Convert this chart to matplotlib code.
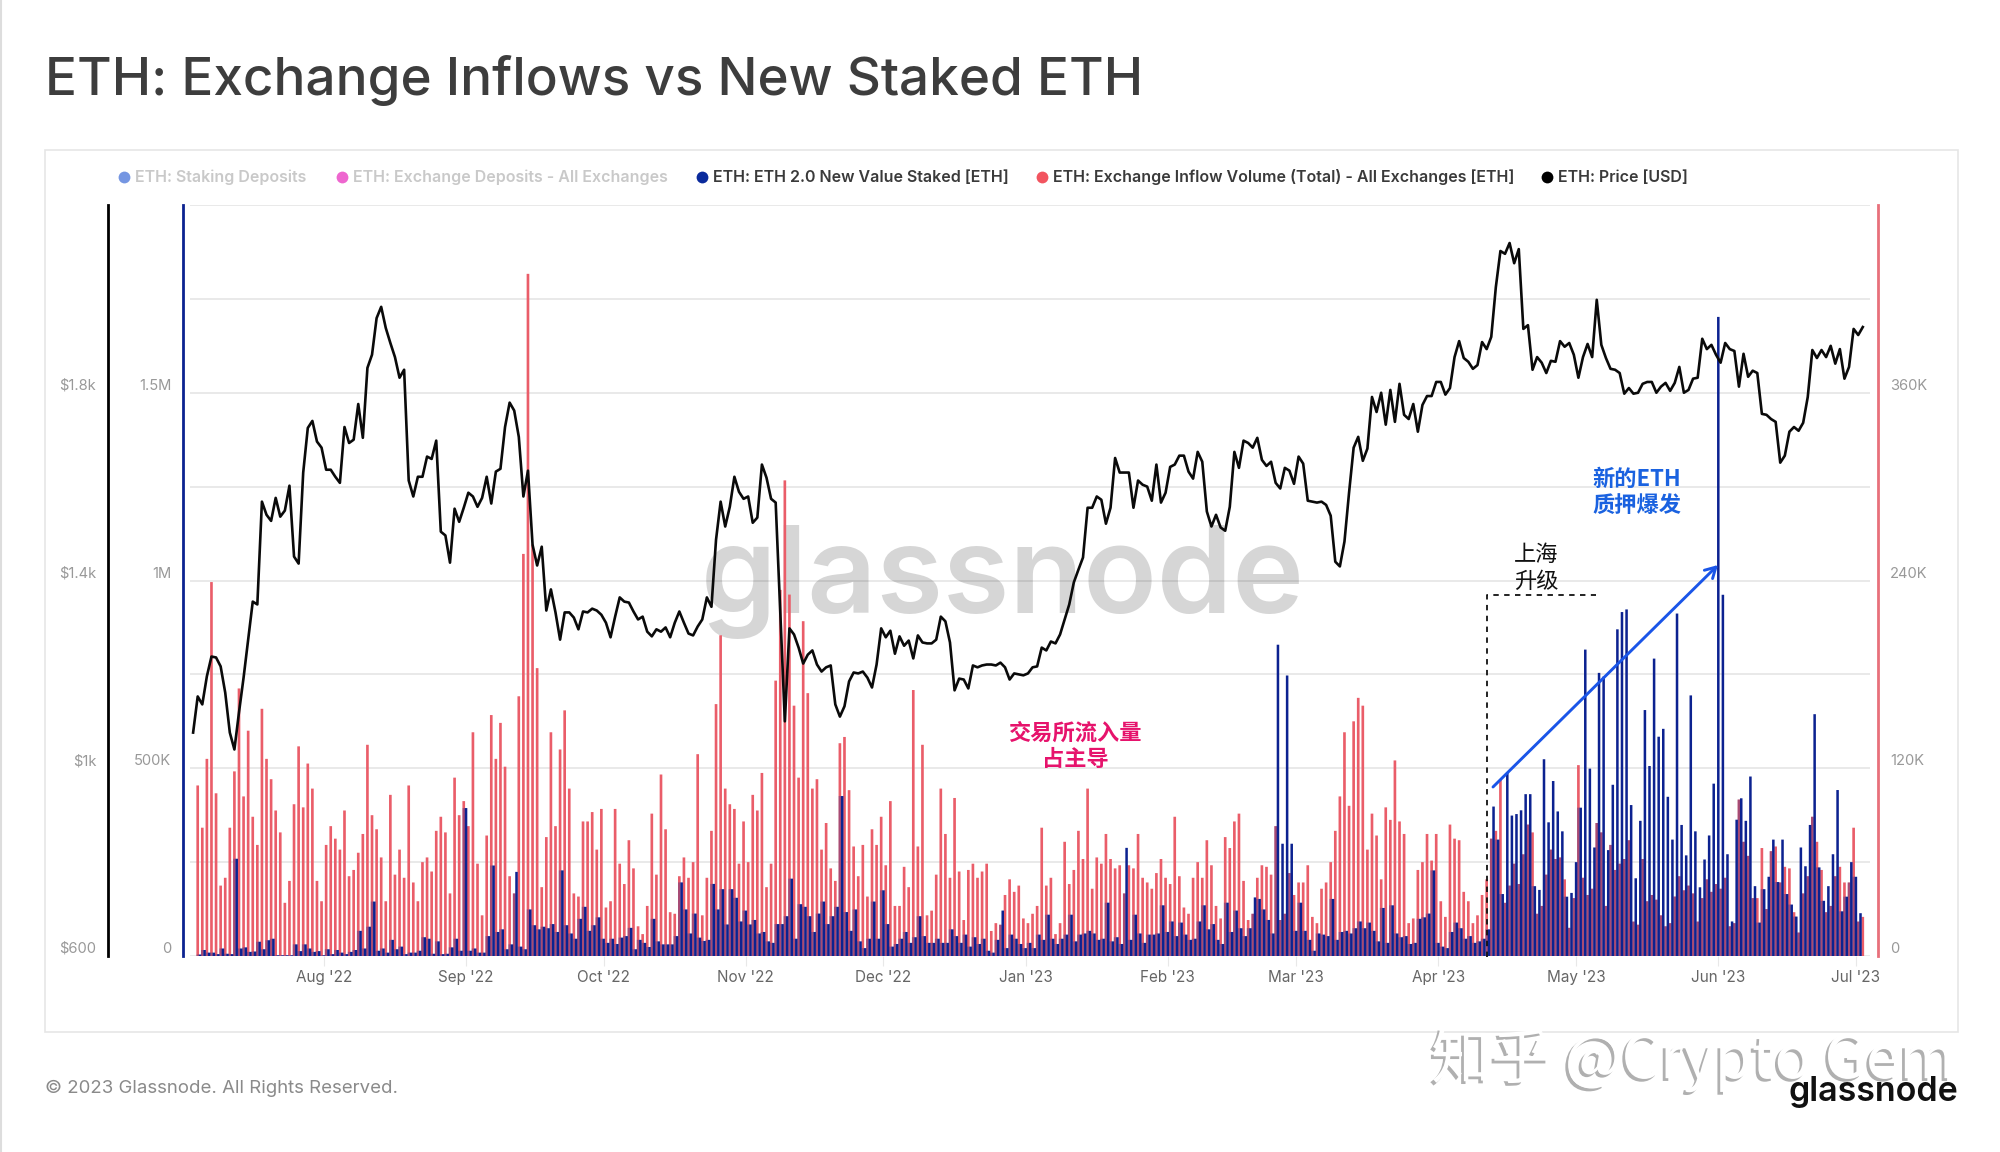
import matplotlib
matplotlib.use('Agg')
import matplotlib.pyplot as plt
import matplotlib.patheffects as path_effects
import numpy as np
import pandas as pd
from matplotlib.lines import Line2D
from matplotlib.patches import Rectangle

plt.rcParams['font.family'] = ['Inter', 'Noto Sans CJK SC', 'DejaVu Sans']

# daily values, first bar is 5 Jul 2022
start_date = '2022-07-05'

# exchange inflow volume, thousand ETH
inflow = [
    109, 82, 126, 239, 104, 45, 50, 82, 118, 171, 102, 144, 89, 71, 158, 126, 113, 93, 79, 34,
    48, 97, 134, 95, 123, 107, 48, 35, 71, 83, 75, 68, 93, 51, 55, 66, 78, 135, 90, 81,
    63, 35, 103, 52, 68, 50, 109, 47, 35, 60, 63, 54, 80, 89, 79, 40, 114, 90, 99, 83,
    143, 59, 26, 77, 154, 126, 149, 121, 51, 40, 166, 257, 436, 263, 184, 44, 76, 143, 83, 132,
    157, 107, 40, 38, 86, 86, 92, 68, 94, 31, 35, 94,
    59, 46, 74, 56, 19, 14, 32, 91, 52, 116, 81, 28, 27, 51, 63, 50, 60, 129, 26, 50,
    80, 161, 205, 107, 97, 94, 59, 86, 60, 103, 93, 117, 44, 59, 176, 234, 304, 231, 160, 114,
    214, 168, 107, 113, 68, 85, 56, 48, 136, 140, 106, 70, 51, 71, 38, 81, 71, 89, 58, 99,
    32, 32, 57, 44, 170, 70, 135, 26, 29, 52, 107, 78, 50, 101, 54, 23, 55, 59, 50, 54,
    59, 16, 21, 20, 39, 49, 41, 45, 24, 21, 27, 32, 82, 45, 50, 14, 21, 73, 46,
    55, 80, 62, 107, 43, 63, 59, 78, 62, 56, 58, 40, 58, 56, 78, 50, 47, 43, 53, 62,
    50, 46, 89, 51, 31, 27, 50, 60, 50, 74, 58, 32, 24, 76, 69, 86, 91, 48, 23, 27,
    50, 58, 57, 52, 83, 23, 27, 53, 39, 47, 47, 58, 25, 21, 43, 47, 60, 80, 102, 143,
    96, 150, 165, 160, 68, 91, 77, 49, 95, 87, 125, 86, 78, 21, 24, 55, 60, 78, 61, 78,
    35, 25, 84, 75, 74, 41, 35, 21, 26, 39, 49, 75, 80, 113,
    34, 45, 59, 46, 65, 84, 79, 27, 32, 52, 68, 62, 63, 49, 18, 37, 122, 50, 39, 43,
    85, 79, 32, 71, 55, 59, 62, 74, 22, 20, 62, 35, 39, 36, 26, 19, 21, 38, 51, 42,
    45, 40, 22, 37, 49, 41, 46, 43, 50, 19, 21, 100, 73, 64, 37, 37, 69, 30, 67, 70,
    47, 57, 56, 28, 15, 40, 51, 89, 73, 55, 28, 32, 51, 57, 47, 47, 82, 22, 25,
]

# new value staked, thousand ETH
staked = [
    4, 16, 9, 9, 5, 20, 6, 5, 259, 20, 23, 11, 12, 38, 18, 42, 46, 2, 2, 2,
    2, 31, 13, 31, 20, 11, 13, 2, 18, 5, 16, 9, 5, 11, 16, 67, 20, 78, 145, 14,
    20, 9, 43, 18, 25, 5, 9, 9, 14, 50, 46, 6, 39, 5, 6, 23, 46, 14, 394, 14,
    20, 9, 9, 53, 241, 64, 71, 18, 31, 224, 25, 18, 124, 82, 71, 78, 74, 85, 64, 228,
    82, 60, 46, 99, 131, 67, 82, 103, 46, 35, 46, 32,
    49, 53, 75, 18, 43, 35, 24, 99, 39, 31, 31, 31, 53, 196, 124, 60, 113, 49, 40, 43,
    192, 124, 178, 84, 178, 155, 92, 121, 84, 96, 60, 64, 39, 35, 85, 85, 106, 206, 46, 138,
    131, 106, 64, 113, 145, 85, 106, 131, 426, 117, 67, 124, 39, 21, 46, 145, 46, 175, 85, 25,
    32, 46, 64, 35, 50, 106, 53, 35, 35, 46, 35, 35, 71, 53, 35, 57, 25, 50, 32, 46,
    14, 9, 43, 121, 21, 57, 46, 32, 21, 35, 21, 57, 43, 110, 46, 32, 46, 57,
    110, 39, 57, 60, 67, 60, 43, 46, 142, 39, 50, 32, 288, 43, 110, 60, 35, 57, 57, 60,
    135, 64, 92, 53, 89, 57, 43, 46, 92, 135, 71, 85, 43, 32, 142, 64, 121, 74, 53, 74,
    156, 152, 124, 96, 60, 829, 299, 747, 299, 67, 142, 67, 43, 14, 60, 57, 53, 152, 43, 64,
    67, 60, 74, 92, 74, 89, 67, 39, 128, 35, 135, 60, 50, 53, 32, 35, 99, 103, 113, 228,
    35, 25, 21, 64, 89, 74, 46, 53, 35, 39, 46, 71, 398,
    310, 165, 488, 374, 378, 388, 431, 431, 186, 176, 524, 356, 466, 385, 332, 158, 168, 250, 395, 816,
    499, 289, 754, 744, 282, 456, 870, 916, 923, 402, 207, 360, 655, 506, 792, 584, 605, 424, 310, 912,
    349, 268, 694, 332, 183, 257, 321, 459, 1702, 962, 271, 92, 363, 420, 360, 478, 186, 89, 178, 211,
    310, 197, 310, 165, 137, 105, 289, 239, 349, 644, 236, 147, 186, 271, 442, 119, 158, 250, 211, 114, 0,
]

# ETH price in USD, first point is the day before the first bar
price = [
    1076, 1153, 1136, 1196, 1238, 1236, 1217, 1161, 1076, 1040, 1119, 1193, 1274, 1355, 1349,
    1568, 1540, 1527, 1576, 1536, 1549, 1602, 1451, 1436, 1630,
    1725, 1740, 1696, 1683, 1636, 1636, 1621, 1608, 1727, 1693,
    1700, 1776, 1704, 1853, 1881, 1959, 1983, 1938, 1906, 1876,
    1832, 1849, 1613, 1579, 1621, 1621, 1664, 1659, 1698, 1504,
    1496, 1438, 1553, 1525, 1555, 1587, 1579, 1557, 1576, 1621,
    1564, 1632, 1638, 1727, 1779, 1762, 1706, 1579, 1634, 1476,
    1432, 1472, 1336, 1381, 1332,
    1274, 1332, 1332, 1321, 1296, 1334, 1332, 1340, 1336, 1327, 1310, 1279, 1323, 1364, 1355, 1353,
    1334, 1317, 1323, 1291, 1281, 1296, 1291, 1300, 1279, 1310, 1334, 1310, 1287, 1283, 1302, 1317,
    1364, 1344, 1487, 1568, 1515, 1557, 1621, 1589, 1574, 1579, 1523, 1534, 1647, 1619, 1574, 1566,
    1334, 1100, 1298, 1285, 1257, 1223, 1242, 1251, 1221, 1206, 1215, 1219, 1136, 1110, 1132, 1185,
    1204, 1202, 1206, 1193, 1172, 1221, 1298, 1279, 1293, 1244, 1281, 1261, 1272, 1234, 1283, 1268,
    1266, 1266, 1274, 1323, 1313, 1268, 1166, 1191, 1189, 1170, 1219, 1215, 1219, 1221, 1221, 1219,
    1225, 1215, 1189, 1202, 1200, 1198, 1202, 1215, 1217, 1257, 1251, 1270, 1266, 1285, 1317, 1349,
    1396, 1423,
    1449, 1555, 1555, 1579, 1572, 1521, 1555, 1661, 1630, 1630,
    1630, 1555, 1613, 1604, 1600, 1570, 1647, 1566, 1587, 1642,
    1647, 1666, 1666, 1632, 1617, 1674, 1653, 1547, 1515, 1540,
    1513, 1506, 1557, 1674, 1640, 1698, 1693, 1683, 1704, 1657,
    1644, 1653, 1608, 1596, 1640, 1634, 1606, 1664, 1649, 1570,
    1568, 1566, 1568, 1561, 1538, 1440, 1430, 1483, 1587, 1683,
    1706,
    1655, 1681, 1791, 1759, 1800, 1732, 1806, 1738, 1819, 1753,
    1744, 1776, 1717, 1774, 1793, 1793, 1823, 1823, 1796, 1810,
    1876, 1910, 1874, 1866, 1851, 1859, 1908, 1893, 1919, 2025,
    2102, 2096, 2119, 2076, 2106, 1936, 1944, 1849, 1876, 1864,
    1842, 1868, 1866, 1910, 1898, 1906, 1881, 1832, 1876, 1904,
    1876, 1998, 1902, 1874, 1851, 1849, 1842, 1798, 1810, 1798,
    1800, 1819, 1823, 1823, 1800, 1813, 1821, 1804, 1821, 1855,
    1800, 1806, 1830, 1832, 1915, 1893, 1902, 1881, 1864, 1906,
    1893, 1889, 1813, 1883, 1834, 1847, 1842, 1755, 1753, 1744,
    1738, 1651, 1666, 1717, 1727, 1719, 1736, 1791, 1891, 1874,
    1891, 1876, 1900, 1862, 1893, 1830, 1855, 1936, 1923, 1940,
]

month_ticks = ['2022-08-01', '2022-09-01', '2022-10-01', '2022-11-01', '2022-12-01', '2023-01-01',
               '2023-02-01', '2023-03-01', '2023-04-01', '2023-05-01', '2023-06-01', '2023-07-01']
month_labels = ["Aug '22", "Sep '22", "Oct '22", "Nov '22", "Dec '22", "Jan '23",
                "Feb '23", "Mar '23", "Apr '23", "May '23", "Jun '23", "Jul '23"]

staked_ticks = [0, 500, 1000, 1500]
staked_labels = ['0', '500K', '1M', '1.5M']
price_ticks = [600, 1000, 1400, 1800]
price_labels = ['$600', '$1k', '$1.4k', '$1.8k']
inflow_ticks = [0, 120, 240, 360]
inflow_labels = ['0', '120K', '240K', '360K']
inflow_minor = [60, 180, 300, 420, 480]

legend_names = ['ETH: Staking Deposits', 'ETH: Exchange Deposits - All Exchanges',
                'ETH: ETH 2.0 New Value Staked [ETH]',
                'ETH: Exchange Inflow Volume (Total) - All Exchanges [ETH]', 'ETH: Price [USD]']
legend_dots = ['#7596e2', '#ee66cf', '#0a2a9c', '#f2545f', '#000000']
legend_text = ['#c9c9c9', '#c9c9c9', '#3a3a3a', '#3a3a3a', '#3a3a3a']
legend_x = [124, 342, 702, 1042, 1547]

RED = '#ea5d69'
NAVY = '#0c2290'
W, H = 2000, 1152


def fx(px):
    return px / W


def fy(px):
    return 1 - px / H


def px_text(x, y, s, **kw):
    kw.setdefault('va', 'center')
    return fig.text(fx(x), fy(y), s, **kw)


def px_line(xs, ys, **kw):
    fig.add_artist(Line2D([fx(v) for v in xs], [fy(v) for v in ys], transform=fig.transFigure, **kw))


fig = plt.figure(figsize=(20, 11.52), dpi=100, facecolor='white')
fig.add_artist(Rectangle((fx(45), fy(1032)), fx(1958 - 45), (1032 - 150) / H, transform=fig.transFigure,
                         fc='white', ec='#e6e6e6', lw=1.2, zorder=-3))
px_line([1, 1], [0, H], color='#dddddd', lw=1.5, zorder=-3)

px_text(45, 80, 'ETH: Exchange Inflows vs New Staked ETH', fontsize=38.2, fontweight=500, color='#3d3d3d')

for name, dot, col, x in zip(legend_names, legend_dots, legend_text, legend_x):
    fig.add_artist(Line2D([fx(x)], [fy(177)], marker='o', ms=8.5, color=dot, mec='none', ls='none',
                          transform=fig.transFigure))
    px_text(x + 11, 177, name, fontsize=11.5, fontweight=600, color=col)

# big grey mark behind the bars
px_text(1003, 613, 'glassnode', fontsize=87, fontweight=600, color='#d6d6d6', ha='center', va='baseline', zorder=-1)

rect = [fx(190), 1 - 956 / H, fx(1870 - 190), (956 - 205) / H]
ax_staked = fig.add_axes(rect, zorder=2)
ax_inflow = ax_staked.twinx()
ax_price = ax_staked.twinx()
ax_inflow.set_zorder(1)
ax_staked.set_zorder(2)
ax_price.set_zorder(3)

days = np.arange(len(inflow))
t0 = pd.Timestamp(start_date)
tick_days = [(pd.Timestamp(d) - t0).days for d in month_ticks]

# red sits half a day before the blue bar of the same date
ax_inflow.bar(days - 0.5, inflow, width=0.58, color=RED, lw=0, snap=False)
overlap = np.minimum(np.array(inflow), np.array(staked) * 480 / 2000)
ax_inflow.bar(days - 0.5, overlap, width=0.58, color=NAVY, alpha=0.3, lw=0, snap=False)
ax_staked.bar(days, staked, width=0.55, color=NAVY, lw=0, snap=False)
ax_price.plot(np.arange(len(price)) - 1.5, price, color='#0a0a0a', lw=1.9, solid_joinstyle='round')

for ax in (ax_staked, ax_inflow, ax_price):
    ax.set_xlim(-2.18, 364.07)
    ax.patch.set_visible(False)
    for side in ax.spines:
        ax.spines[side].set_visible(False)

ax_staked.set_ylim(0, 2000)
ax_inflow.set_ylim(0, 480)
ax_price.set_ylim(600, 2200)

ax_staked.set_xticks(tick_days)
ax_staked.set_xticklabels(month_labels)
ax_staked.tick_params(axis='x', length=7, width=0.8, color='#e8e8e8', pad=3.2, labelsize=11, labelcolor='#666666')

ax_staked.set_yticks(staked_ticks)
ax_staked.set_yticklabels(staked_labels)
ax_staked.yaxis.set_ticks_position('left')
ax_staked.spines['left'].set_visible(True)
ax_staked.spines['left'].set_position(('outward', 5))
ax_staked.spines['left'].set_color(NAVY)
ax_staked.spines['left'].set_linewidth(2)
ax_staked.tick_params(axis='y', length=0, pad=8.5, labelsize=10.6, labelcolor='#999999')

ax_price.set_yticks(price_ticks)
ax_price.set_yticklabels(price_labels)
ax_price.yaxis.set_ticks_position('left')
ax_price.spines['left'].set_visible(True)
ax_price.spines['left'].set_position(('outward', 59))
ax_price.spines['left'].set_color('#000000')
ax_price.spines['left'].set_linewidth(2)
ax_price.tick_params(axis='y', length=0, pad=8.5, labelsize=10.6, labelcolor='#999999')
ax_price.tick_params(axis='x', length=0, labelbottom=False)

ax_inflow.set_yticks(inflow_ticks)
ax_inflow.set_yticklabels(inflow_labels)
ax_inflow.set_yticks(inflow_minor, minor=True)
ax_inflow.yaxis.set_ticks_position('right')
ax_inflow.spines['right'].set_visible(True)
ax_inflow.spines['right'].set_position(('outward', 5.8))
ax_inflow.spines['right'].set_color('#e8707b')
ax_inflow.spines['right'].set_linewidth(2)
ax_inflow.tick_params(axis='y', which='both', length=0, pad=8.5, labelsize=10.6, labelcolor='#999999')
ax_inflow.tick_params(axis='x', length=0, labelbottom=False)
ax_inflow.grid(axis='y', which='both', color='#000000', alpha=0.115, lw=1.1)
ax_inflow.set_axisbelow(True)

# the value labels sit just above their grid lines
for ax in (ax_staked, ax_inflow, ax_price):
    for label in ax.get_yticklabels():
        label.set_verticalalignment('bottom')

# notes drawn over the chart
cjk = ['Noto Sans CJK SC', 'DejaVu Sans']
px_text(1075, 733, '交易所流入量', family=cjk, fontsize=16, fontweight='bold', color='#e6136c', ha='center', zorder=10)
px_text(1075, 760, '占主导', family=cjk, fontsize=16, fontweight='bold', color='#e6136c', ha='center', zorder=10)
px_text(1637, 479, '新的ETH', family=cjk, fontsize=16, fontweight='bold', color='#1a62e0', ha='center', zorder=10)
px_text(1637, 506, '质押爆发', family=cjk, fontsize=16, fontweight='bold', color='#1a62e0', ha='center', zorder=10)
px_text(1536, 554, '上海', family=cjk, fontsize=16, color='#111111', ha='center', zorder=10)
px_text(1536, 581, '升级', family=cjk, fontsize=16, color='#111111', ha='center', zorder=10)

px_line([1487, 1487, 1596], [957, 595, 595], color='#111111', lw=1.3, ls=(0, (3, 3)), zorder=10)

ax_price.annotate('', xy=(1718, H - 565), xytext=(1493, H - 787), xycoords='figure pixels',
                  textcoords='figure pixels', annotation_clip=False, zorder=10,
                  arrowprops=dict(arrowstyle='->,head_length=0.75,head_width=0.42', color='#1a55e8', lw=2.1,
                                  shrinkA=0, shrinkB=0))

# footer
px_text(45, 1088, '© 2023 Glassnode. All Rights Reserved.', fontsize=13.4, color='#8a8a8a')
zhihu = px_text(1431, 1060, '知乎 @Crypto Gem', family=cjk, fontsize=43.3, color='#ffffff', zorder=6)
zhihu.set_path_effects([path_effects.withSimplePatchShadow(offset=(-2, -2), shadow_rgbFace='#b0b0b0', alpha=1)])
px_text(1958, 1092, 'glassnode', fontsize=24.5, fontweight=600, color='#111111', ha='right', zorder=7)

fig.savefig('out.png', dpi=100)
